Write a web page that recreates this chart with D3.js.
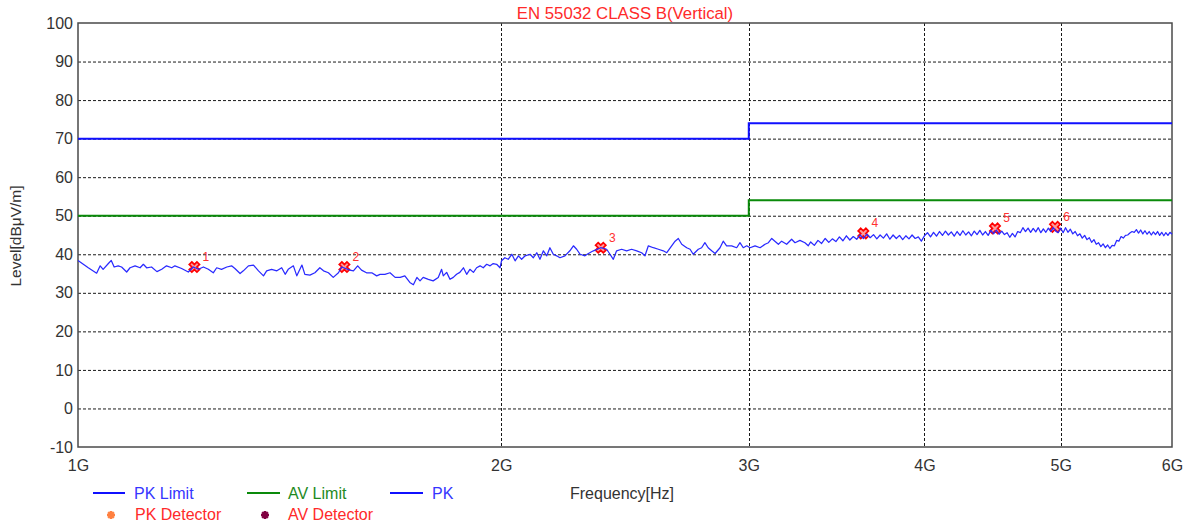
<!DOCTYPE html>
<html>
<head>
<meta charset="utf-8">
<script src="https://cdn.jsdelivr.net/npm/d3@7"></script>
<style>
  html, body { margin: 0; padding: 0; background: #fff; }
  svg { display: block; font-family: "Liberation Sans", Arial, sans-serif; }
</style>
</head>
<body>
<svg id="chart" width="1192" height="527"></svg>
<script>
// Axis ticks
const freqTickValues = [1000, 2000, 3000, 4000, 5000, 6000];   // MHz
const freqTickLabels = ["1G", "2G", "3G", "4G", "5G", "6G"];
const levelTicks = [-10, 0, 10, 20, 30, 40, 50, 60, 70, 80, 90, 100];

// Limit lines (step at 3 GHz)
const limitFreqs = [1000, 3000, 6000];
const pkLimitLevels = [70, 74, 74];
const avLimitLevels = [50, 54, 54];

// Peak sweep, [MHz, dBuV/m]
const pkTraceLow = [
  [1000,38.4],[1017,36.5],[1031,35.1],[1037,37.0],[1042,36.1],[1051,37.6],[1056,38.4],[1061,36.7],
  [1068,37.0],[1074,36.7],[1083,35.4],[1089,36.5],[1098,37.0],[1107,36.5],[1113,37.4],[1119,36.5],
  [1128,36.7],[1138,35.5],[1147,36.1],[1156,37.0],[1166,36.5],[1172,37.0],[1185,36.3],[1198,35.4],
  [1208,36.7],[1218,36.1],[1228,36.7],[1238,36.1],[1248,35.2],[1255,36.5],[1265,36.1],[1276,36.7],
  [1286,37.0],[1293,36.3],[1304,35.0],[1311,35.7],[1322,37.0],[1333,37.2],[1344,35.7],[1355,34.4],
  [1362,35.7],[1373,36.1],[1385,35.7],[1396,36.5],[1404,34.8],[1411,36.1],[1423,37.0],[1431,34.4],
  [1443,37.2],[1450,34.8],[1462,34.6],[1474,35.2],[1486,36.5],[1495,35.7],[1507,35.2],[1519,34.0],
  [1532,35.2],[1540,36.7],[1561,35.9],[1570,35.7],[1581,37.0],[1591,35.9],[1604,35.2],[1618,35.2],
  [1631,34.4],[1640,34.8],[1653,34.8],[1667,35.2],[1681,34.0],[1695,34.0],[1708,34.4],[1722,32.7],
  [1732,32.1],[1742,34.0],[1751,33.1],[1760,34.0],[1775,33.5],[1789,33.1],[1804,34.0],[1814,36.1],
  [1819,34.4],[1829,35.3],[1839,33.5],[1849,34.0],[1859,34.8],[1869,35.3],[1880,36.5],[1890,34.8],
  [1900,36.1],[1911,35.3],[1921,36.5],[1932,37.0],[1942,36.5],[1953,37.4],[1964,37.0],[1974,37.6],
  [1985,37.4],[1996,36.5]
];
const pkTraceMid = [
  [2001,38.3],[2012,39.1],[2023,38.7],[2035,40.0],[2046,38.3],[2057,39.6],[2068,38.7],[2080,39.6],
  [2097,40.0],[2108,39.1],[2120,40.4],[2131,38.7],[2143,40.9],[2155,39.6],[2166,41.7],[2178,40.0],
  [2190,39.6],[2202,39.1],[2220,39.6],[2238,40.9],[2251,42.2],[2263,41.3],[2276,40.0],[2294,39.6],
  [2307,40.2],[2326,40.9],[2354,41.7],[2377,41.3],[2390,40.0],[2403,38.7],[2416,40.9],[2436,41.3],
  [2456,40.9],[2476,41.3],[2497,40.9],[2517,40.4],[2531,39.6],[2545,42.2],[2566,41.7],[2587,41.3],
  [2608,40.9],[2623,40.4],[2644,42.2],[2659,43.4],[2673,44.1],[2688,42.6],[2710,41.7],[2725,41.3],
  [2739,40.0],[2762,41.3],[2777,41.7],[2792,43.0],[2807,41.7],[2823,40.9],[2839,40.2],[2862,41.7],
  [2877,43.4],[2893,42.2],[2917,42.2],[2941,41.7],[2957,43.0],[2973,41.7],[2990,42.2],[3006,41.7],
  [3031,42.2],[3056,41.7],[3081,42.6],[3098,43.0],[3115,44.1],[3131,43.4],[3149,42.6],[3166,43.4],
  [3192,42.6],[3218,43.9],[3236,43.0],[3262,43.6],[3289,43.0],[3307,42.2]
];
const pkTraceHigh = [
  [3320,43.2],[3340,42.3],[3360,43.6],[3380,42.8],[3400,44.1],[3420,43.1],[3440,44.0],[3460,43.3],
  [3480,44.5],[3500,43.5],[3520,44.8],[3540,43.7],[3560,44.6],[3580,43.9],[3600,45.0],[3620,44.1],
  [3640,45.2],[3660,44.3],[3680,45.1],[3700,44.0],[3720,45.0],[3740,44.2],[3760,45.3],[3780,43.9],
  [3800,45.0],[3820,44.1],[3840,44.9],[3860,43.8],[3880,44.8],[3900,44.0],[3920,45.0],[3940,44.1],
  [3960,44.5],[3980,43.4],[4000,44.8],[4020,45.6],[4040,44.5],[4060,45.7],[4080,44.7],[4100,45.9],
  [4120,44.9],[4140,46.0],[4160,45.0],[4180,45.8],[4200,44.7],[4220,45.9],[4240,44.9],[4260,46.1],
  [4280,45.0],[4300,45.8],[4320,44.8],[4340,46.0],[4360,45.1],[4380,46.2],[4400,45.0],[4420,45.9],
  [4440,44.9],[4460,46.2],[4480,45.3],[4500,46.3],[4520,45.2],[4540,46.0],[4560,45.1],[4580,45.6],
  [4600,44.4],[4620,45.4],[4640,44.5],[4660,45.9],[4680,45.6],[4700,46.9],[4720,45.9],[4740,46.8],
  [4760,45.7],[4780,46.7],[4800,45.8],[4820,46.9],[4840,45.6],[4860,46.6],[4880,45.7],[4900,46.8],
  [4920,45.9],[4940,46.9],[4960,46.0],[4980,45.6],[5000,46.8],[5020,45.6],[5040,46.9],[5060,45.7],
  [5080,46.5],[5100,45.3],[5120,45.9],[5140,44.8],[5160,45.3],[5180,44.2],[5200,44.9],[5220,43.8],
  [5240,44.3],[5260,43.1],[5280,43.8],[5300,42.6],[5320,43.0],[5340,42.0],[5360,42.7],[5380,41.7],
  [5400,42.4],[5420,41.5],[5440,42.3],[5460,42.2],[5480,43.6],[5500,43.4],[5520,44.6],[5540,44.2],
  [5560,44.9],[5580,45.0],[5600,45.5],[5620,45.9],[5640,45.7],[5660,46.4],[5680,45.5],[5700,46.3],
  [5720,45.3],[5740,46.1],[5760,45.2],[5780,45.9],[5800,45.0],[5820,45.8],[5840,45.1],[5860,45.9],
  [5880,44.9],[5900,45.7],[5920,44.8],[5940,45.6],[5960,44.9],[5980,45.7],[6000,45.2]
];

// Peak detector readings
const markerLabels = ["1", "2", "3", "4", "5", "6"];
const markerFreqs = [1210, 1547, 2354, 3619, 4490, 4954];
const markerLevels = [36.7, 36.7, 41.7, 45.4, 46.7, 47.1];

const margin = { left: 78, right: 1172, top: 23, bottom: 447 };

const svg = d3.select("#chart");

const x = d3.scaleLog().domain([1000, 6000]).range([margin.left, margin.right]);
const y = d3.scaleLinear().domain([-10, 100]).range([margin.bottom, margin.top]);

const gridColor = "#1a1a1a";

// Horizontal grid
svg.append("g")
  .selectAll("line")
  .data(levelTicks.filter(v => v > -10 && v < 100))
  .join("line")
  .attr("x1", margin.left).attr("x2", margin.right)
  .attr("y1", d => y(d) + 0.5).attr("y2", d => y(d) + 0.5)
  .attr("stroke", gridColor).attr("stroke-width", 1)
  .attr("stroke-dasharray", "3,2");

// Vertical grid
svg.append("g")
  .selectAll("line")
  .data(freqTickValues.filter(v => v > 1000 && v < 6000))
  .join("line")
  .attr("x1", d => Math.round(x(d)) + 0.5).attr("x2", d => Math.round(x(d)) + 0.5)
  .attr("y1", margin.top).attr("y2", margin.bottom)
  .attr("stroke", gridColor).attr("stroke-width", 1)
  .attr("stroke-dasharray", "3,2");

// Frame
svg.append("rect")
  .attr("x", margin.left).attr("y", margin.top)
  .attr("width", margin.right - margin.left).attr("height", margin.bottom - margin.top)
  .attr("fill", "none").attr("stroke", "#4a4a4a").attr("stroke-width", 1.5);

// Y axis labels
const yAxis = d3.axisLeft(y).tickValues(levelTicks).tickSize(0).tickPadding(5)
  .tickFormat(d => String(d));
svg.append("g")
  .attr("transform", `translate(${margin.left},0)`)
  .call(yAxis)
  .call(g => g.select(".domain").remove())
  .call(g => g.selectAll("text")
    .attr("font-size", 16).attr("fill", "#333")
    .attr("font-family", "Liberation Sans, Arial, sans-serif"));

// X axis labels
const xAxis = d3.axisBottom(x).tickValues(freqTickValues).tickSize(0).tickPadding(13)
  .tickFormat((d, i) => freqTickLabels[i]);
svg.append("g")
  .attr("transform", `translate(0,${margin.bottom})`)
  .call(xAxis)
  .call(g => g.select(".domain").remove())
  .call(g => g.selectAll("text")
    .attr("font-size", 16).attr("fill", "#333")
    .attr("font-family", "Liberation Sans, Arial, sans-serif"));

// Title
svg.append("text")
  .attr("x", (margin.left + margin.right) / 2).attr("y", 19)
  .attr("text-anchor", "middle")
  .attr("font-size", 16.8).attr("fill", "#ff2a2a")
  .text("EN 55032 CLASS B(Vertical)");

// Y axis title
svg.append("text")
  .attr("transform", "translate(21,236) rotate(-90)")
  .attr("text-anchor", "middle")
  .attr("font-size", 15.5).attr("fill", "#333")
  .text("Level[dBμV/m]");

// Limit lines
const limitLine = d3.line().curve(d3.curveStepAfter)
  .x(d => x(d[0])).y(d => y(d[1]));
const pkLimit = limitFreqs.map((f, i) => [f, pkLimitLevels[i]]);
const avLimit = limitFreqs.map((f, i) => [f, avLimitLevels[i]]);

svg.append("path").datum(avLimit)
  .attr("d", limitLine).attr("fill", "none")
  .attr("stroke", "#0a8a0a").attr("stroke-width", 2);
svg.append("path").datum(pkLimit)
  .attr("d", limitLine).attr("fill", "none")
  .attr("stroke", "#1010ff").attr("stroke-width", 2);

// Detector markers
const markerSym = d3.symbol().type(d3.symbolCross).size(66);
const markers = svg.append("g");
markerFreqs.forEach((f, i) => {
  const cx = x(f), cy = y(markerLevels[i]);
  markers.append("path")
    .attr("d", markerSym())
    .attr("transform", `translate(${cx},${cy}) rotate(45)`)
    .attr("fill", "#ff9a9a").attr("stroke", "#ff0000").attr("stroke-width", 1.7);
  markers.append("text")
    .attr("x", cx + 11.5).attr("y", cy - 6)
    .attr("text-anchor", "middle")
    .attr("font-size", 12).attr("fill", "#ff3030")
    .text(markerLabels[i]);
});

// Peak sweep trace
const traceLine = d3.line().x(d => x(d[0])).y(d => y(d[1]));
svg.append("path")
  .datum(pkTraceLow.concat(pkTraceMid, pkTraceHigh))
  .attr("d", traceLine).attr("fill", "none")
  .attr("stroke", "#2a2aff").attr("stroke-width", 1.25)
  .attr("stroke-linejoin", "round");

// Legend
const legend = svg.append("g").attr("font-size", 16);
const lineItems = [
  { x1: 93, x2: 125, tx: 134, color: "#1010ff", text: "PK Limit", tcolor: "#3535ff" },
  { x1: 247, x2: 280, tx: 288, color: "#0a8a0a", text: "AV Limit", tcolor: "#1e8a1e" },
  { x1: 390, x2: 423, tx: 432, color: "#1010ff", text: "PK", tcolor: "#3535ff" }
];
lineItems.forEach(it => {
  legend.append("line")
    .attr("x1", it.x1).attr("x2", it.x2).attr("y1", 493).attr("y2", 493)
    .attr("stroke", it.color).attr("stroke-width", 2);
  legend.append("text")
    .attr("x", it.tx).attr("y", 499).attr("fill", it.tcolor).text(it.text);
});
// Asterisk glyphs for the detector entries
const starItems = [
  { cx: 111, tx: 135, color: "#ff8040", text: "PK Detector" },
  { cx: 265, tx: 288, color: "#800040", text: "AV Detector" }
];
starItems.forEach(it => {
  const g = legend.append("g").attr("transform", `translate(${it.cx},515)`);
  [0, 45, 90, 135].forEach(r => g.append("line")
    .attr("x1", -4).attr("x2", 4).attr("y1", 0).attr("y2", 0)
    .attr("transform", `rotate(${r})`)
    .attr("stroke", it.color).attr("stroke-width", 2.4));
  legend.append("text")
    .attr("x", it.tx).attr("y", 520).attr("fill", "#ff2a2a").text(it.text);
});

// X axis title
svg.append("text")
  .attr("x", 570).attr("y", 499)
  .attr("font-size", 16).attr("fill", "#333")
  .text("Frequency[Hz]");
</script>
</body>
</html>
